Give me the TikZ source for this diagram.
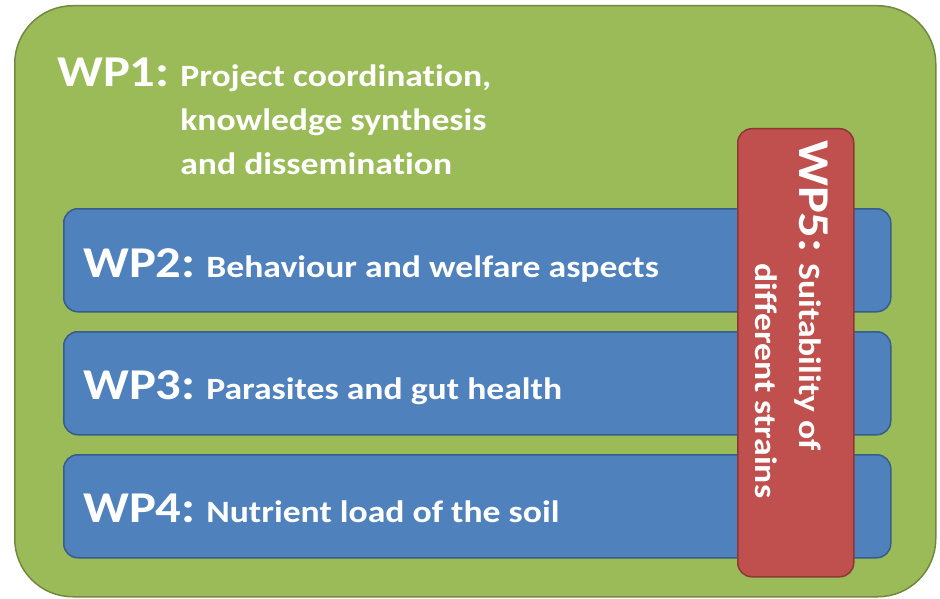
\documentclass[tikz,border=0pt]{standalone}
\usepackage{fontspec}
\setmainfont[FakeStretch=1.15, Ligatures=NoCommon]{Carlito}
\usetikzlibrary{positioning}

\definecolor{wpgreen}{HTML}{9BBB59}
\definecolor{wpgreenline}{HTML}{71893F}
\definecolor{wpblue}{HTML}{4F81BD}
\definecolor{wpblueline}{HTML}{385D8A}
\definecolor{wpred}{HTML}{C0504D}
\definecolor{wpredline}{HTML}{8C3836}

\newcommand{\wplabel}[1]{{\fontsize{44}{44}\selectfont #1}}

\tikzset{
  outerbox/.style={draw=wpgreenline, fill=wpgreen, line width=1.5pt, rounded corners=58pt, minimum width=921pt, minimum height=591pt, inner sep=0pt},
  wpbox/.style={draw=wpblueline, fill=wpblue, line width=1.5pt, rounded corners=14pt, minimum width=827pt, minimum height=103pt, inner sep=0pt},
  crossbox/.style={draw=wpredline, fill=wpred, line width=1.5pt, rounded corners=14pt, minimum width=116pt, minimum height=448pt, inner sep=0pt},
  wptext/.style={text=white, font=\bfseries\fontsize{31}{44}\selectfont, inner sep=0pt}
}

\begin{document}
\begin{tikzpicture}[x=1pt, y=-1pt]

\useasboundingbox (0,0) rectangle (940,599);

% WP1 frame
\node[outerbox, anchor=north west] (wp1box) at (14,5) {};

% WP2 - WP4
\node[wpbox, anchor=north west] (wp2box) at (63,208) {};
\node[wpbox, anchor=north west] (wp3box) at (63,331) {};
\node[wpbox, anchor=north west] (wp4box) at (63,454) {};

% WP5 across
\node[crossbox, anchor=north west] (wp5box) at (737,128) {};

% texts
\node[wptext, anchor=base west] (wp1) at (57,87) {\wplabel{WP1:} \begin{tabular}[t]{@{}l@{}}Project coordination,\\ knowledge synthesis\\ and dissemination\end{tabular}};

\node[wptext, anchor=base west] (wp2) at (83,277) {\wplabel{WP2:} Behaviour and welfare aspects};
\node[wptext, anchor=base west] (wp3) at (83,399) {\wplabel{WP3:} Parasites and gut health};
\node[wptext, anchor=base west] (wp4) at (83,522) {\wplabel{WP4:} Nutrient load of the soil};

\node[wptext, rotate=-90, anchor=base west] (wp5) at (799,140) {\wplabel{WP5:} \begin{tabular}[t]{@{}l@{}}Suitability of\\ different strains\end{tabular}};

\end{tikzpicture}
\end{document}
